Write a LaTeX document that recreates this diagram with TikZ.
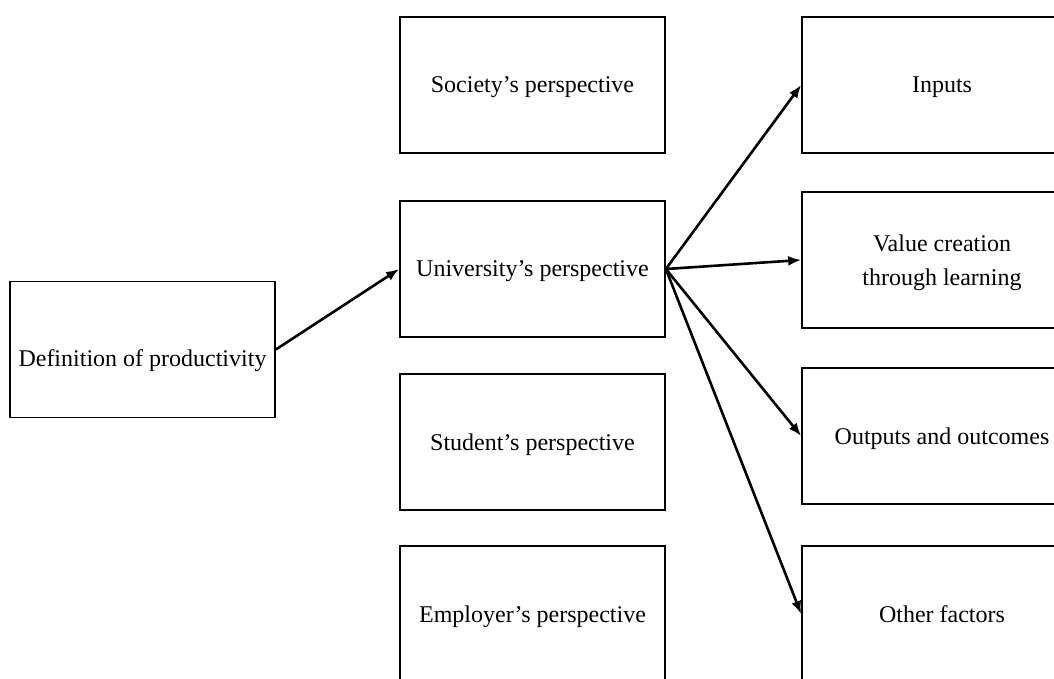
\documentclass[tikz,border=0pt]{standalone}
\usepackage{fontspec}
\setmainfont{Liberation Serif}
\usepackage{tikz}
\usetikzlibrary{arrows.meta}
\usetikzlibrary{positioning}
\tikzset{blk/.style = {draw, line width = 1.7, inner sep = 0, text depth = 0,
                       minimum width = 265, minimum height = 136,
                       align = center, font = \fontsize{24}{34}\selectfont}}
\tikzset{arr/.style = {-{Latex[length = 13, width = 10]}, line width = 2.6}}

\begin{document}
\begin{tikzpicture}[x = 1pt, y = -1pt]
    \useasboundingbox (0, 0) rectangle (1054, 678);
    \clip (0, 0) rectangle (1054, 678);
    \node [blk, text height = 33] (def) at (142.5, 349.5) {Definition of productivity};
    \node [blk] (soc) at (532.5, 85) {Society's perspective};
    \node [blk] (uni) at (532.5, 269) {University's perspective};
    \node [blk] (stu) at (532.5, 442) {Student's perspective};
    \node [blk] (emp) at (532.5, 614) {Employer's perspective};
    \node [blk, minimum width = 280] (inp) at (942, 85) {Inputs};
    \node [blk, minimum width = 280] (val) at (942, 260) {Value creation\\through learning};
    \node [blk, minimum width = 280] (out) at (942, 436) {Outputs and outcomes};
    \node [blk, minimum width = 280] (oth) at (942, 614) {Other factors};
    \draw [arr] (def.east) -- (uni.west);
    \draw [arr] (uni.east) -- (inp.west);
    \draw [arr] (uni.east) -- (val.west);
    \draw [arr] (uni.east) -- (out.west);
    \draw [arr] (uni.east) -- (oth.west);
  \end{tikzpicture}
\end{document}
